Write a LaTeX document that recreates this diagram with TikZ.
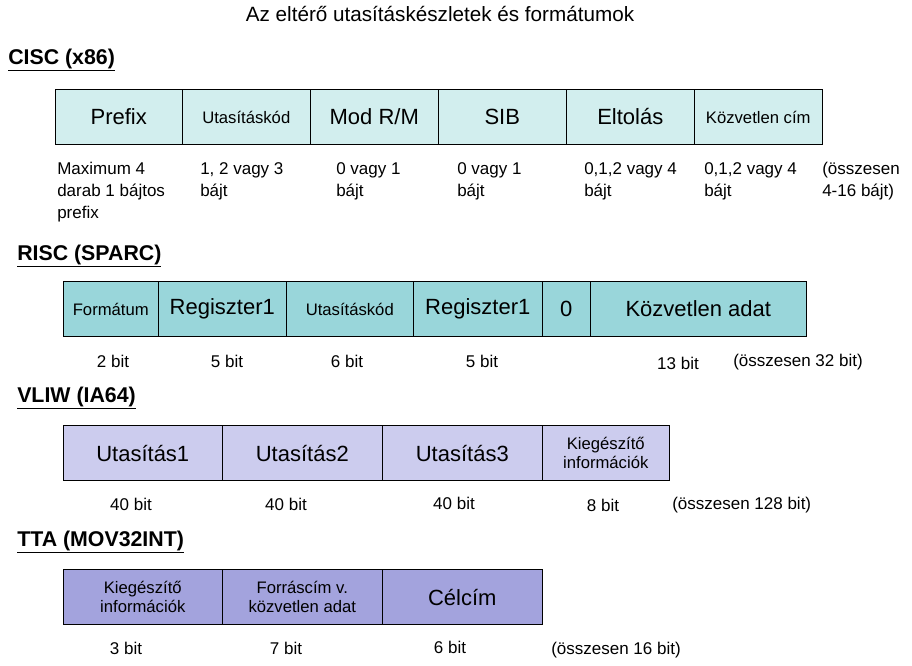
\documentclass[tikz,border=0pt]{standalone}
\usepackage{fontspec}
\setmainfont{Liberation Sans}
\usetikzlibrary{positioning}
\definecolor{ciscc}{HTML}{D2EEEE}
\definecolor{riscc}{HTML}{99D6DA}
\definecolor{vliwc}{HTML}{CCCCEE}
\definecolor{ttac}{HTML}{A3A3DD}
\begin{document}
\begin{tikzpicture}[
  x=0.75pt, y=-0.75pt,
  cell/.style={draw, inner sep=1pt, align=center, anchor=west, minimum height=41.25pt, font=\fontsize{16.5}{18}\selectfont},
  small/.style={font=\fontsize{12.5}{14}\selectfont},
  lbl/.style={font=\fontsize{12.75}{16.5}\selectfont, align=left, anchor=north west, inner sep=0pt},
  clbl/.style={font=\fontsize{12.75}{14}\selectfont, inner sep=0pt},
  head/.style={font=\fontsize{16}{17}\selectfont\bfseries, anchor=west, inner sep=0pt}
]
\useasboundingbox (0,0) rectangle (912,665);

% Title
\node[font=\fontsize{15.5}{17}\selectfont] (title) at (440,14) {Az eltérő utasításkészletek és formátumok};

% CISC
\node[head] (cisch) at (8,60) {\underline{CISC (x86)}};
\node[cell, fill=ciscc, minimum width=95.25pt] (c1) at (55,117) {Prefix};
\node[cell, fill=ciscc, minimum width=96pt, small] (c2) at (182,117) {Utasításkód};
\node[cell, fill=ciscc, minimum width=96pt] (c3) at (310,117) {Mod R/M};
\node[cell, fill=ciscc, minimum width=96pt] (c4) at (438,117) {SIB};
\node[cell, fill=ciscc, minimum width=96pt] (c5) at (566,117) {Eltolás};
\node[cell, fill=ciscc, minimum width=96pt, small] (c6) at (694,117) {Közvetlen cím};
\node[lbl] (cl1) at (57,162) {Maximum 4\\darab 1 bájtos\\prefix};
\node[lbl] (cl2) at (200,162) {1, 2  vagy 3\\bájt};
\node[lbl] (cl3) at (336,162) {0 vagy 1\\bájt};
\node[lbl] (cl4) at (457,162) {0 vagy 1\\bájt};
\node[lbl] (cl5) at (584,162) {0,1,2 vagy 4\\bájt};
\node[lbl] (cl6) at (704,162) {0,1,2 vagy 4\\bájt};
\node[lbl] (cl7) at (822,162) {(összesen\\4-16 bájt)};

% RISC
\node[head] (risch) at (17,256) {\underline{RISC (SPARC)}};
\node[cell, fill=riscc, minimum width=71.25pt, small] (r1) at (63,309) {Formátum};
\node[cell, fill=riscc, minimum width=96pt] (r2) at (158,309) {Regiszter1};
\node[cell, fill=riscc, minimum width=95.25pt, small] (r3) at (286,309) {Utasításkód};
\node[cell, fill=riscc, minimum width=96.75pt] (r4) at (413,309) {Regiszter1};
\node[cell, fill=riscc, minimum width=36pt] (r5) at (542,309) {0};
\node[cell, fill=riscc, minimum width=162pt] (r6) at (590,309) {Közvetlen adat};
\node[clbl] (rl1) at (113,361) {2 bit};
\node[clbl] (rl2) at (227,361) {5 bit};
\node[clbl] (rl3) at (347,361) {6 bit};
\node[clbl] (rl4) at (482,361) {5 bit};
\node[clbl] (rl5) at (678,363) {13 bit};
\node[clbl, anchor=west] (rl6) at (733,362) {(összesen 32 bit)};

% VLIW
\node[head] (vliwh) at (17,398) {\underline{VLIW (IA64)}};
\node[cell, fill=vliwc, minimum width=119.25pt] (v1) at (63,453) {Utasítás1};
\node[cell, fill=vliwc, minimum width=120pt] (v2) at (222,453) {Utasítás2};
\node[cell, fill=vliwc, minimum width=120pt] (v3) at (382,453) {Utasítás3};
\node[cell, fill=vliwc, minimum width=95.25pt, small] (v4) at (542,453) {Kiegészítő\\információk};
\node[clbl] (vl1) at (131,504) {40 bit};
\node[clbl] (vl2) at (286,504) {40 bit};
\node[clbl] (vl3) at (454,503) {40 bit};
\node[clbl] (vl4) at (603,505) {8 bit};
\node[clbl, anchor=west] (vl5) at (672,505) {(összesen 128 bit)};

% TTA
\node[head] (ttah) at (17,542) {\underline{TTA (MOV32INT)}};
\node[cell, fill=ttac, minimum width=119.25pt, small] (t1) at (63,597) {Kiegészítő\\információk};
\node[cell, fill=ttac, minimum width=120pt, small] (t2) at (222,597) {Forráscím v.\\közvetlen adat};
\node[cell, fill=ttac, minimum width=120pt] (t3) at (382,597) {Célcím};
\node[clbl] (tl1) at (126,648) {3 bit};
\node[clbl] (tl2) at (286,648) {7 bit};
\node[clbl] (tl3) at (450,647) {6 bit};
\node[clbl, anchor=west] (tl4) at (551,650) {(összesen 16 bit)};
\end{tikzpicture}
\end{document}
